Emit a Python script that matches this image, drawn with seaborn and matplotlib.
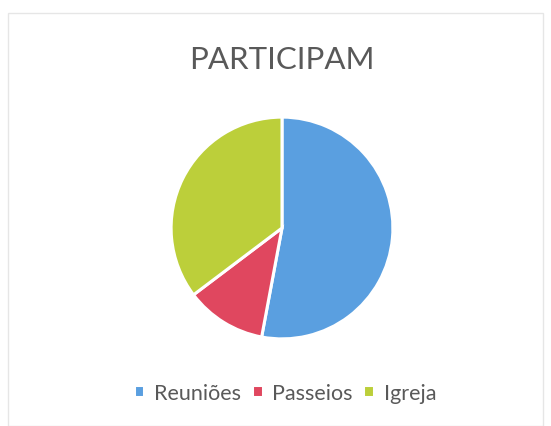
import matplotlib
matplotlib.use("Agg")
import matplotlib.pyplot as plt
import seaborn as sns
from matplotlib.patches import Rectangle

categories = ["Reuniões", "Passeios", "Igreja"]
values = [9, 2, 6]
colors = ["#5A9FE0", "#E0475F", "#BCCF3A"]
title = "PARTICIPAM"

sns.set_theme(style="white")
plt.rcParams['font.family'] = ['Lato', 'DejaVu Sans']

W, H = 551, 427
fig = plt.figure(figsize=(W / 100, H / 100), dpi=100)
fig.patch.set_facecolor("white")

cx, cy, r = 282, 229, 112
ax = fig.add_axes([(cx - r) / W, (H - cy - r) / H, 2 * r / W, 2 * r / H])
wedges, _ = ax.pie(values, colors=colors, startangle=90, counterclock=False,
                   wedgeprops=dict(edgecolor="white", linewidth=2.2), radius=1)
ax.set_xlim(-1.01, 1.01)
ax.set_ylim(-1.01, 1.01)
ax.set_aspect("equal")
ax.axis("off")

fig.text(282 / W, 1 - 60 / H, title, ha="center", va="center", fontsize=22.5,
         color="#595959")

leg = fig.legend(wedges, categories, loc="center", bbox_to_anchor=(285 / W, 1 - 394 / H),
                 ncol=3, frameon=False, fontsize=15.5, handlelength=0.5, handleheight=0.5,
                 handletextpad=0.45, columnspacing=0.5, labelcolor="#595959")

fig.add_artist(Rectangle((8 / W, 0), 1 - 16 / W, 1 - 14 / H, transform=fig.transFigure,
                         fill=False, edgecolor="#e6e6e6", linewidth=1))

fig.savefig("out.png", dpi=100)
